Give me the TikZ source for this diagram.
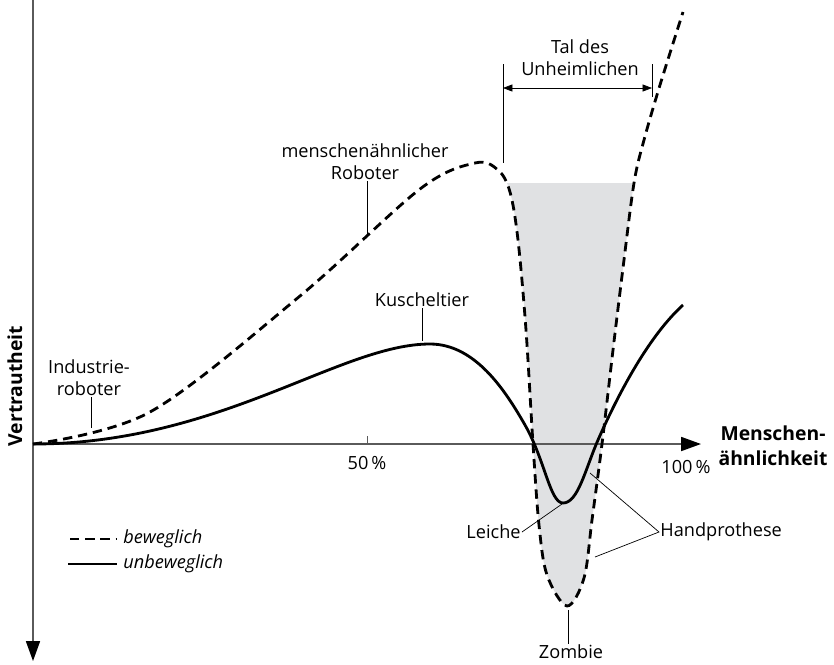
\documentclass[tikz,border=0pt]{standalone}
\usepackage{fontspec}
\setmainfont{Open Sans}
\usetikzlibrary{arrows.meta}

\definecolor{valley}{HTML}{E0E1E3}
\definecolor{axisgray}{HTML}{5A5A5A}

\begin{document}
\begin{tikzpicture}[x=0.03cm, y=-0.03cm, font=\fontsize{15.5}{18.5}\selectfont,
  axis/.style={draw=axisgray, line width=1.3pt, -{Triangle[length=17pt, width=12pt, black]}},
  movable/.style={line width=2.4pt, dash pattern=on 8pt off 5pt},
  still/.style={line width=2.4pt, line join=round},
  leader/.style={draw=black, line width=0.6pt},
  lbl/.style={align=center, inner sep=1pt},
  boldlbl/.style={lbl, font=\fontsize{16.5}{20}\selectfont\bfseries},
  itlbl/.style={lbl, anchor=west, font=\fontsize{15.5}{18.5}\selectfont\itshape}]

\useasboundingbox (0,0) rectangle (834,664);

% valley shading
\begin{scope}
  \clip (490,183) rectangle (700,664);
  \fill[valley] plot[smooth, tension=0.55] coordinates {
    (33,444) (150,412) (300,296) (420,189) (475,163) (498,170) (510,192)
    (518,240) (526,330) (533,444) (539,525) (547,575) (567,606) (584,578)
    (592,520) (602,444) (613,350) (623,268) (634,183) (644,140) (660,85)
    (683,12)} -- cycle;
\end{scope}

% axes
\coordinate (origin) at (33,444);
\coordinate (ytop) at (33,0);
\coordinate (ybot) at (33,661);
\coordinate (xend) at (701,444);
\draw[axis] (origin) -- (xend);
\draw[axis] (ytop) -- (ybot);
\coordinate (t50) at (367,444);
\draw[axisgray, line width=0.8pt] (t50) -- ++(0,-8);

% curves
\draw[movable] plot[smooth, tension=0.55] coordinates {
    (33,444) (150,412) (300,296) (420,189) (475,163) (498,170) (510,192)
    (518,240) (526,330) (533,444) (539,525) (547,575) (567,606) (584,578)
    (592,520) (602,444) (613,350) (623,268) (634,183) (644,140) (660,85)
    (683,12)};
\draw[still] (origin) .. controls (220,444) and (340,344) .. (430,344)
  .. controls (475,344) and (505,390) .. (525,425)
  .. controls (545,460) and (550,503) .. (563,503)
  .. controls (578,503) and (585,470) .. (598,440)
  .. controls (620,390) and (650,335) .. (683,305);

% labels
\node[boldlbl, rotate=90] (ylabel) at (15,386) {Vertrautheit};
\node[boldlbl] (xlabel) at (773,446) {Menschen-\\[1pt]ähnlichkeit};
\node[lbl] (p50) at (367,463) {50\,\%};
\node[lbl] (p100) at (686,467) {100\,\%};

\node[lbl] (tal) at (580,58) {Tal des\\Unheimlichen};
\node[lbl] (mroboter) at (365,162) {menschenähnlicher\\Roboter};
\node[lbl] (industrie) at (89,378) {Industrie-\\roboter};
\node[lbl] (kuschel) at (422,300) {Kuscheltier};
\node[lbl, anchor=east] (leiche) at (522,532) {Leiche};
\node[lbl, anchor=west] (hand) at (659,532) {Handprothese};
\node[lbl] (zombie) at (571,652) {Zombie};

% leaders
\coordinate (talL) at (503,64);
\coordinate (talLb) at (503,163);
\coordinate (talR) at (652,64);
\coordinate (talRb) at (652,97);
\draw[leader] (talL) -- (talLb);
\draw[leader] (talR) -- (talRb);
\draw[leader, {Triangle[length=8pt, width=6pt]}-{Triangle[length=8pt, width=6pt]}] (503,88) -- (652,88);

\coordinate (mrpt) at (367,236);
\draw[leader] (mroboter.south -| mrpt) -- (mrpt);
\coordinate (indpt) at (91,428);
\draw[leader] (industrie.south -| indpt) -- (indpt);
\coordinate (kpt) at (422,341);
\draw[leader] (kuschel.south -| kpt) -- (kpt);
\coordinate (leichept) at (562,504);
\draw[leader] (leiche.east) -- (leichept);
\coordinate (handA) at (590,473);
\coordinate (handB) at (595,557);
\draw[leader] (handA) -- (hand.west) -- (handB);
\coordinate (zombiept) at (568,610);
\draw[leader] (zombiept) -- (zombie.north -| zombiept);

% legend
\coordinate (legA) at (70,539);
\coordinate (legB) at (68,564);
\node[itlbl] (legmov) at (122,539) {beweglich};
\node[itlbl] (legstill) at (122,564) {unbeweglich};
\draw[movable] (legA) -- ([xshift=-4pt]legmov.west);
\draw[still] (legB) -- ([xshift=-4pt]legstill.west);

\end{tikzpicture}
\end{document}
